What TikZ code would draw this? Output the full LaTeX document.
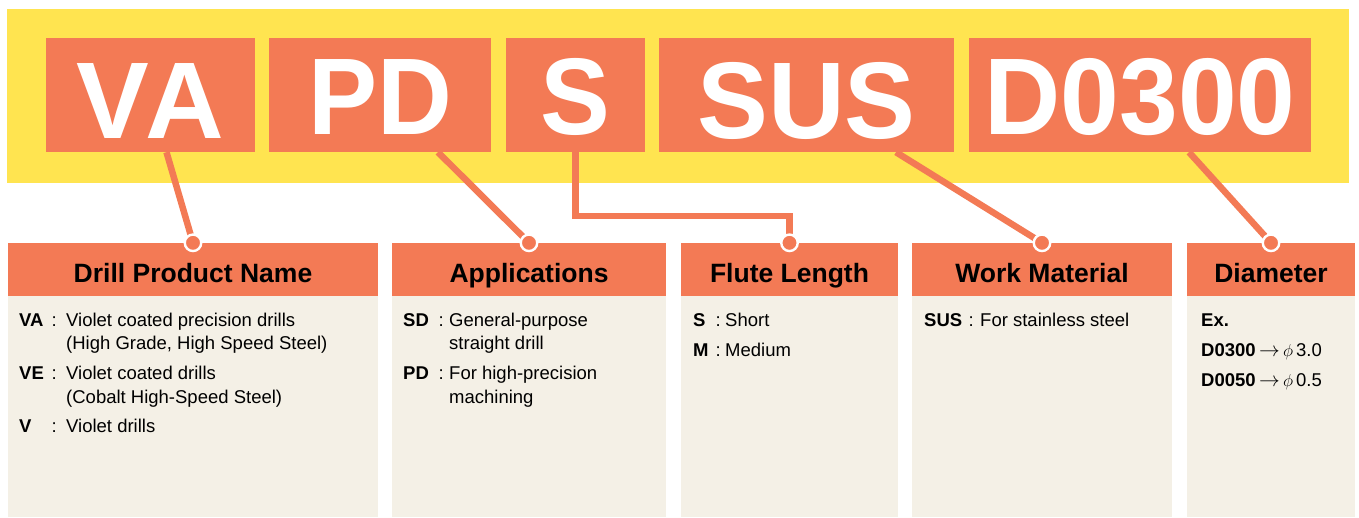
\documentclass[tikz,border=0pt]{standalone}
\usepackage{fontspec}
\setmainfont{Liberation Sans}
\definecolor{ylw}{RGB}{255,228,80}
\definecolor{org}{RGB}{243,122,85}
\definecolor{bge}{RGB}{244,240,230}
\newcommand{\bigarr}{{\fontsize{21}{21}\selectfont$\rightarrow$}}
\begin{document}
\begin{tikzpicture}[x=1pt,y=-1pt,
  band/.style={fill=ylw,inner sep=0pt},
  codebox/.style={fill=org,text=white,inner sep=0pt,minimum height=114pt,text height=78pt,text depth=0pt,font=\fontsize{109}{109}\selectfont\bfseries},
  headbox/.style={fill=org,inner sep=0pt,minimum height=53pt,text height=25pt,text depth=0pt,font=\fontsize{26.5}{26.5}\selectfont\bfseries},
  bodybox/.style={fill=bge,inner sep=0pt,anchor=north,minimum height=221pt},
  conn/.style={draw=org,line width=6.5pt},
  dot/.style={circle,fill=org,draw=white,line width=2.4pt,minimum size=16.5pt,inner sep=0pt},
  lbl/.style={anchor=base west,inner sep=0pt,font=\fontsize{18.5}{22}\selectfont\bfseries},
  txt/.style={anchor=base west,inner sep=0pt,font=\fontsize{18.5}{22}\selectfont}]
\useasboundingbox (0,0) rectangle (1359,517);

\node[band,minimum width=1342pt,minimum height=174pt] (yb) at (678,96) {};

\node[codebox,minimum width=209pt] (va) at (150.5,95) {\raisebox{-4pt}{\addfontfeature{Kerning=Off}V\kern-4pt A}};
\node[codebox,minimum width=222pt] (pd) at (380,95) {\scalebox{0.95}[1]{PD}};
\node[codebox,minimum width=139pt] (s) at (575.5,95) {\scalebox{0.96}[1]{S}};
\node[codebox,minimum width=295pt] (sus) at (806.5,95) {\raisebox{-4pt}{\scalebox{0.975}[1]{SUS}}};
\node[codebox,minimum width=342pt] (dia) at (1140,95) {\scalebox{0.968}[1]{D0300}};

\node[headbox,minimum width=370pt] (h1) at (193,269.5) {Drill Product Name};
\node[headbox,minimum width=274pt] (h2) at (529,269.5) {Applications};
\node[headbox,minimum width=217pt] (h3) at (789.5,269.5) {Flute Length};
\node[headbox,minimum width=260pt] (h4) at (1042,269.5) {Work Material};
\node[headbox,minimum width=168pt] (h5) at (1271,269.5) {Diameter};

\node[bodybox,minimum width=370pt] (b1) at (h1.south) {};
\node[bodybox,minimum width=274pt] (b2) at (h2.south) {};
\node[bodybox,minimum width=217pt] (b3) at (h3.south) {};
\node[bodybox,minimum width=260pt] (b4) at (h4.south) {};
\node[bodybox,minimum width=168pt] (b5) at (h5.south) {};

% box 1
\node[lbl] (t1a) at (19,326) {VA};
\node[txt] (t1b) at (51.5,326) {:};
\node[txt] (t1c) at (66,326) {Violet coated precision drills};
\node[txt] (t1d) at (66,349) {(High Grade, High Speed Steel)};
\node[lbl] (t1e) at (19,379) {VE};
\node[txt] (t1f) at (51.5,379) {:};
\node[txt] (t1g) at (66,379) {Violet coated drills};
\node[txt] (t1h) at (66,403) {(Cobalt High-Speed Steel)};
\node[lbl] (t1i) at (19,432) {V};
\node[txt] (t1j) at (51.5,432) {:};
\node[txt] (t1k) at (66,432) {Violet drills};

% box 2
\node[lbl] (t2a) at (403,326) {SD};
\node[txt] (t2b) at (438.5,326) {:};
\node[txt] (t2c) at (449,326) {General-purpose};
\node[txt] (t2d) at (449,349) {straight drill};
\node[lbl] (t2e) at (403,379) {PD};
\node[txt] (t2f) at (438.5,379) {:};
\node[txt] (t2g) at (449,379) {For high-precision};
\node[txt] (t2h) at (449,403) {machining};

% box 3
\node[lbl] (t3a) at (693,326) {S};
\node[txt] (t3b) at (715.5,326) {:};
\node[txt] (t3c) at (725,326) {Short};
\node[lbl] (t3d) at (693,356) {M};
\node[txt] (t3e) at (715.5,356) {:};
\node[txt] (t3f) at (725,356) {Medium};

% box 4
\node[lbl] (t4a) at (924,326) {SUS};
\node[txt] (t4b) at (968.5,326) {:};
\node[txt] (t4c) at (980,326) {For stainless steel};

% box 5
\node[lbl] (t5a) at (1201,326) {Ex.};
\node[lbl] (t5b) at (1201,356) {D0300};
\node[txt] (t5c) at (1259,356) {\bigarr\,$\phi$\,3.0};
\node[lbl] (t5d) at (1201,386) {D0050};
\node[txt] (t5e) at (1259,386) {\bigarr\,$\phi$\,0.5};

% connectors
\draw[conn] ([xshift=16pt]va.south) -- (h1.north);
\draw[conn] ([xshift=58pt]pd.south) -- (h2.north);
\draw[conn] (s.south) |- ([yshift=27pt]h3.north) -- (h3.north);
\draw[conn] ([xshift=89.5pt]sus.south) -- (h4.north);
\draw[conn] ([xshift=49pt]dia.south) -- (h5.north);

\node[dot] (c1) at (h1.north) {};
\node[dot] (c2) at (h2.north) {};
\node[dot] (c3) at (h3.north) {};
\node[dot] (c4) at (h4.north) {};
\node[dot] (c5) at (h5.north) {};
\end{tikzpicture}
\end{document}
